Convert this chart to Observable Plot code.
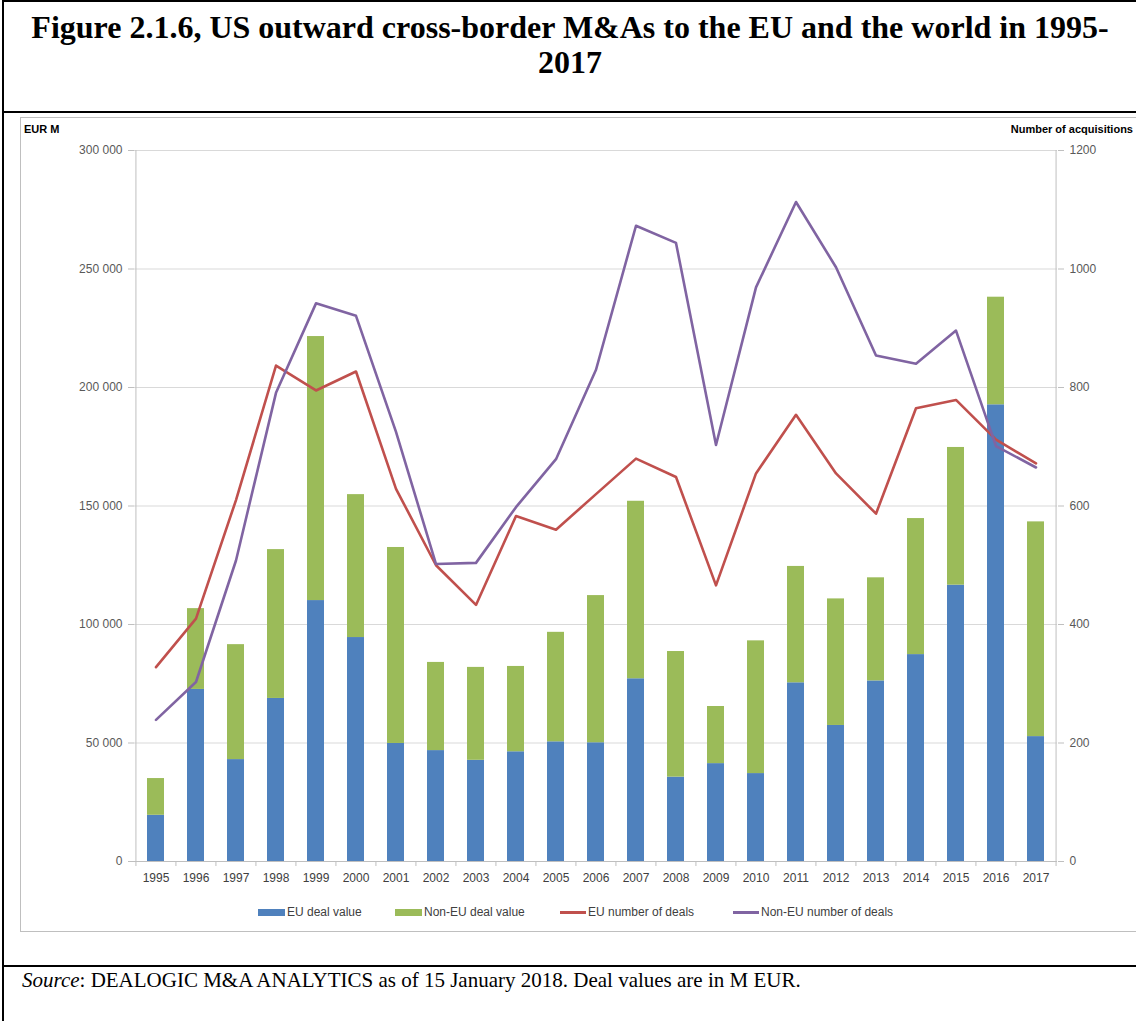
<!DOCTYPE html>
<html>
<head>
<meta charset="utf-8">
<script src="https://cdn.jsdelivr.net/npm/d3@7"></script>
<script src="https://cdn.jsdelivr.net/npm/@observablehq/plot@0.6"></script>
<style>
  html, body { margin: 0; padding: 0; background: #fff; }
  body { width: 1136px; height: 1021px; position: relative; overflow: hidden; }
  .line { position: absolute; background: #000; }
  #title { position: absolute; left: 4px; width: 1132px; top: 10px; text-align: center;
    font-family: "Liberation Serif", "Times New Roman", serif; font-weight: bold; font-size: 32px; line-height: 35px; color: #000; }
  #box { position: absolute; left: 20px; top: 117px; width: 1130px; height: 815px; border: 1px solid #bfbfbf; box-sizing: border-box; }
  #chart { position: absolute; left: 0; top: 113px; }
  .axlab { position: absolute; top: 123px; font-family: "Liberation Sans", Arial, sans-serif; font-weight: bold; font-size: 11px; color: #000; }
  #legend { position: absolute; top: 904px; left: 0; width: 1136px; height: 18px; font-family: "Liberation Sans", Arial, sans-serif; font-size: 12px; color: #404040; }
  .item { position: absolute; top: 0; display: flex; align-items: center; height: 16px; }
  .sw { display: inline-block; width: 27px; height: 7px; margin-right: 2px; }
  .ln { display: inline-block; width: 26px; height: 3px; margin-right: 2px; }
  #source { position: absolute; left: 22px; top: 968px; font-family: "Liberation Serif", "Times New Roman", serif; font-size: 21px; color: #000; }
</style>
</head>
<body>
<div class="line" style="left:2px;top:0;width:2px;height:1021px"></div>
<div class="line" style="left:2px;top:0;width:1134px;height:2px"></div>
<div class="line" style="left:2px;top:111px;width:1134px;height:2px"></div>
<div class="line" style="left:2px;top:965px;width:1134px;height:2px"></div>
<div id="title">Figure 2.1.6, US outward cross-border M&amp;As to the EU and the world in 1995-<br>2017</div>
<div id="box"></div>
<div id="chart"></div>
<div class="axlab" style="left:24px">EUR M</div>
<div class="axlab" style="right:3px">Number of acquisitions</div>
<div id="legend"></div>
<div id="source"><i>Source</i>: DEALOGIC M&amp;A ANALYTICS as of 15 January 2018. Deal values are in M EUR.</div>
<script>
const years = ["1995","1996","1997","1998","1999","2000","2001","2002","2003","2004","2005","2006","2007","2008","2009","2010","2011","2012","2013","2014","2015","2016","2017"];
const euValue    = [19500, 72600, 43000, 68800, 110100, 94500, 49800, 46800, 42700, 46300, 50500, 50100, 77100, 35600, 41300, 37100, 75400, 57400, 76200, 87300, 116600, 192700, 52700];
const nonEuValue = [15500, 34100, 48500, 62800, 111400, 60300, 82700, 37200, 39200, 36000, 46200, 62100, 74900, 53000, 24100, 56000, 49100, 53400, 43500, 57400, 58100, 45400, 90600];
const euDeals    = [328, 410, 610, 837, 795, 827, 629, 500, 433, 583, 560, 620, 680, 649, 466, 655, 754, 655, 587, 765, 779, 712, 672];
const nonEuDeals = [239, 303, 508, 791, 942, 921, 725, 502, 504, 598, 679, 830, 1073, 1044, 703, 969, 1113, 1003, 854, 840, 896, 701, 665];
const seriesNames = ["EU deal value", "Non-EU deal value", "EU number of deals", "Non-EU number of deals"];
const seriesColors = ["#4F81BD", "#9BBB59", "#C0504D", "#8064A2"];
const leftTicks = [0, 50000, 100000, 150000, 200000, 250000, 300000];
const rightMax = 1200, leftMax = 300000;
const K = leftMax / rightMax;

const bars = [];
years.forEach((y, i) => {
  bars.push({year: y, series: seriesNames[0], value: euValue[i]});
  bars.push({year: y, series: seriesNames[1], value: nonEuValue[i]});
});
const lines = [];
years.forEach((y, i) => lines.push({year: y, series: seriesNames[2], count: euDeals[i]}));
years.forEach((y, i) => lines.push({year: y, series: seriesNames[3], count: nonEuDeals[i]}));

const W = 1136, H = 790, ML = 134, MR = 79, MT = 37, MB = 42;
const half = (W - ML - MR) / years.length / 2;
const font = '"Liberation Sans", Arial, sans-serif';
const fmt = d => d3.format(",")(d).replace(/,/g, " ");

const chart = Plot.plot({
  width: W, height: H,
  marginLeft: ML, marginRight: MR, marginTop: MT, marginBottom: MB,
  style: {fontFamily: font, fontSize: "12px", background: "transparent", overflow: "visible"},
  x: {type: "band", domain: years, paddingInner: 0.58, paddingOuter: 0.29, label: null},
  y: {domain: [0, leftMax], label: null},
  color: {domain: seriesNames, range: seriesColors},
  marks: [
    Plot.gridY(leftTicks, {stroke: "#d9d9d9", strokeOpacity: 1}),
    Plot.barY(bars, Plot.stackY({x: "year", y: "value", fill: "series"})),
    Plot.line(lines, {x: "year", y: d => d.count * K, z: "series", stroke: "series", strokeWidth: 2.6}),
    Plot.ruleY([0], {stroke: "#bfbfbf"}),
    Plot.ruleX([years[0]], {dx: -half, stroke: "#bfbfbf"}),
    Plot.ruleX([years[years.length - 1]], {dx: half, stroke: "#bfbfbf"}),
    Plot.ruleX(years, {x: d => d, dx: -half, y1: 0, y2: 0, insetBottom: -5, stroke: "#bfbfbf"}),
    Plot.ruleX([years[years.length - 1]], {x: d => d, dx: half, y1: 0, y2: 0, insetBottom: -5, stroke: "#bfbfbf"}),
    Plot.axisY({anchor: "left", ticks: leftTicks, tickFormat: fmt, tickSize: 6, tickPadding: 6, stroke: "#bfbfbf", fill: "#595959", label: null}),
    Plot.axisY({anchor: "right", ticks: leftTicks, tickFormat: d => String(d / K), tickSize: 6, tickPadding: 6, stroke: "#bfbfbf", fill: "#595959", label: null}),
    Plot.axisX({tickSize: 0, tickPadding: 12, fill: "#404040", label: null})
  ]
});
document.getElementById("chart").appendChild(chart);

const legend = document.getElementById("legend");
const lx = [258, 395, 560, 733];
seriesNames.forEach((s, i) => {
  const it = document.createElement("div");
  it.className = "item";
  it.style.left = lx[i] + "px";
  const sw = document.createElement("span");
  sw.className = i < 2 ? "sw" : "ln";
  sw.style.background = seriesColors[i];
  it.appendChild(sw);
  const t = document.createElement("span");
  t.textContent = s;
  it.appendChild(t);
  legend.appendChild(it);
});
</script>
</body>
</html>
